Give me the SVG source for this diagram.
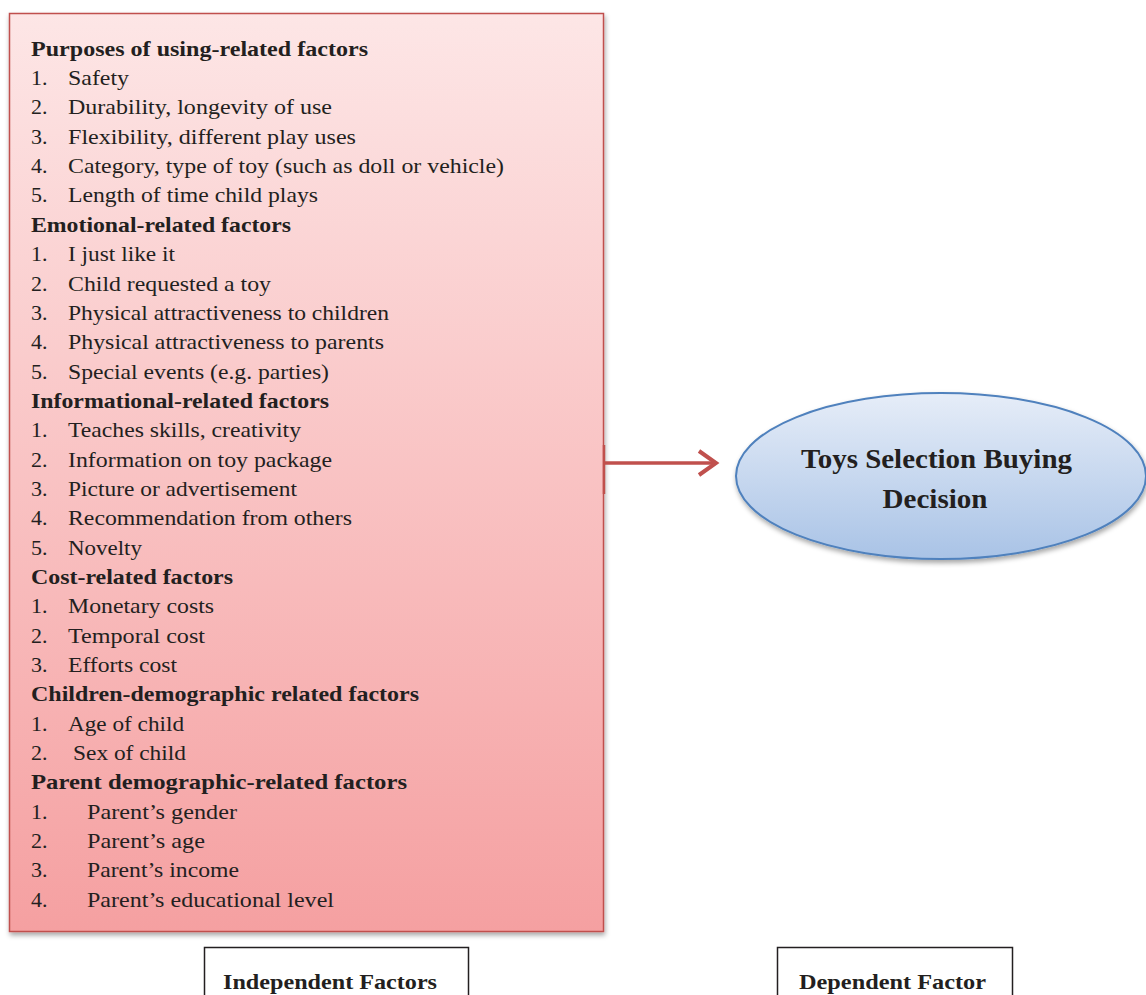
<svg xmlns="http://www.w3.org/2000/svg" width="1146" height="995" viewBox="0 0 1146 995">
<style>
text{lengthAdjust:spacingAndGlyphs}
.t{font-family:"Liberation Serif","Times New Roman",serif;font-size:22px;fill:#231f20}
.h{font-family:"Liberation Serif","Times New Roman",serif;font-size:21px;font-weight:bold;fill:#231f20}
.e{font-family:"Liberation Serif","Times New Roman",serif;font-size:28px;font-weight:bold;fill:#231f20;text-anchor:middle}
.b{font-family:"Liberation Serif","Times New Roman",serif;font-size:21px;font-weight:bold;fill:#231f20;text-anchor:middle}
</style>
<defs>
<linearGradient id="gr" x1="0" y1="0" x2="0" y2="1">
<stop offset="0" stop-color="#fde6e6"/>
<stop offset="1" stop-color="#f5a0a1"/>
</linearGradient>
<linearGradient id="gb" x1="0" y1="0" x2="0" y2="1">
<stop offset="0" stop-color="#e6edf8"/>
<stop offset="1" stop-color="#a9c3e6"/>
</linearGradient>
<filter id="sh" x="-5%" y="-5%" width="110%" height="110%">
<feDropShadow dx="1" dy="3" stdDeviation="2.5" flood-color="#000" flood-opacity="0.35"/>
</filter>
</defs>
<g id="independent">
<rect x="9.5" y="13.5" width="594" height="918" fill="url(#gr)" stroke="#c0504d" stroke-width="1.5" filter="url(#sh)"/>
<text class="h" x="31" y="56" textLength="337" lengthAdjust="spacingAndGlyphs">Purposes of using-related factors</text>
<text class="t" x="31" y="85">1.</text><text class="t" x="68" y="85" textLength="61" lengthAdjust="spacingAndGlyphs">Safety</text>
<text class="t" x="31" y="114">2.</text><text class="t" x="68" y="114" textLength="264" lengthAdjust="spacingAndGlyphs">Durability,  longevity  of use</text>
<text class="t" x="31" y="144">3.</text><text class="t" x="68" y="144" textLength="288" lengthAdjust="spacingAndGlyphs">Flexibility,  different play uses</text>
<text class="t" x="31" y="173">4.</text><text class="t" x="68" y="173" textLength="436" lengthAdjust="spacingAndGlyphs">Category, type of toy (such as doll or vehicle)</text>
<text class="t" x="31" y="202">5.</text><text class="t" x="68" y="202" textLength="250" lengthAdjust="spacingAndGlyphs">Length of time child plays</text>
<text class="h" x="31" y="232" textLength="260" lengthAdjust="spacingAndGlyphs">Emotional-related factors</text>
<text class="t" x="31" y="261">1.</text><text class="t" x="68" y="261" textLength="107" lengthAdjust="spacingAndGlyphs">I just like it</text>
<text class="t" x="31" y="291">2.</text><text class="t" x="68" y="291" textLength="203" lengthAdjust="spacingAndGlyphs">Child  requested a toy</text>
<text class="t" x="31" y="320">3.</text><text class="t" x="68" y="320" textLength="321" lengthAdjust="spacingAndGlyphs">Physical attractiveness to children</text>
<text class="t" x="31" y="349">4.</text><text class="t" x="68" y="349" textLength="316" lengthAdjust="spacingAndGlyphs">Physical attractiveness to parents</text>
<text class="t" x="31" y="379">5.</text><text class="t" x="68" y="379" textLength="261" lengthAdjust="spacingAndGlyphs">Special events (e.g. parties)</text>
<text class="h" x="31" y="408" textLength="298" lengthAdjust="spacingAndGlyphs">Informational-related  factors</text>
<text class="t" x="31" y="437">1.</text><text class="t" x="68" y="437" textLength="233" lengthAdjust="spacingAndGlyphs">Teaches skills,  creativity</text>
<text class="t" x="31" y="467">2.</text><text class="t" x="68" y="467" textLength="264" lengthAdjust="spacingAndGlyphs">Information  on toy package</text>
<text class="t" x="31" y="496">3.</text><text class="t" x="68" y="496" textLength="229" lengthAdjust="spacingAndGlyphs">Picture or advertisement</text>
<text class="t" x="31" y="525">4.</text><text class="t" x="68" y="525" textLength="284" lengthAdjust="spacingAndGlyphs">Recommendation  from others</text>
<text class="t" x="31" y="555">5.</text><text class="t" x="68" y="555" textLength="74" lengthAdjust="spacingAndGlyphs">Novelty</text>
<text class="h" x="31" y="584" textLength="202" lengthAdjust="spacingAndGlyphs">Cost-related factors</text>
<text class="t" x="31" y="613">1.</text><text class="t" x="68" y="613" textLength="146" lengthAdjust="spacingAndGlyphs">Monetary costs</text>
<text class="t" x="31" y="643">2.</text><text class="t" x="68" y="643" textLength="137" lengthAdjust="spacingAndGlyphs">Temporal cost</text>
<text class="t" x="31" y="672">3.</text><text class="t" x="68" y="672" textLength="109" lengthAdjust="spacingAndGlyphs">Efforts cost</text>
<text class="h" x="31" y="701" textLength="388" lengthAdjust="spacingAndGlyphs">Children-demographic related factors</text>
<text class="t" x="31" y="731">1.</text><text class="t" x="68" y="731" textLength="116" lengthAdjust="spacingAndGlyphs">Age of child</text>
<text class="t" x="31" y="760">2.</text><text class="t" x="73" y="760" textLength="113" lengthAdjust="spacingAndGlyphs">Sex of child</text>
<text class="h" x="31" y="789" textLength="376" lengthAdjust="spacingAndGlyphs">Parent demographic-related factors</text>
<text class="t" x="31" y="819">1.</text><text class="t" x="87" y="819" textLength="150" lengthAdjust="spacingAndGlyphs">Parent’s gender</text>
<text class="t" x="31" y="848">2.</text><text class="t" x="87" y="848" textLength="118" lengthAdjust="spacingAndGlyphs">Parent’s age</text>
<text class="t" x="31" y="877">3.</text><text class="t" x="87" y="877" textLength="152" lengthAdjust="spacingAndGlyphs">Parent’s income</text>
<text class="t" x="31" y="907">4.</text><text class="t" x="87" y="907" textLength="247" lengthAdjust="spacingAndGlyphs">Parent’s educational  level</text>
</g>
<g id="dependent">
<ellipse cx="941" cy="476" rx="205" ry="83" fill="url(#gb)" stroke="#4f81bd" stroke-width="2" filter="url(#sh)"/>
<text class="e" x="936.5" y="468" textLength="271" lengthAdjust="spacingAndGlyphs">Toys Selection Buying</text>
<text class="e" x="935" y="508" textLength="105" lengthAdjust="spacingAndGlyphs">Decision</text>
</g>
<g id="label-independent">
<rect x="204.5" y="947.5" width="264" height="60" fill="#fff" stroke="#231f20" stroke-width="1.5"/>
<text class="b" x="330" y="989" textLength="214" lengthAdjust="spacingAndGlyphs">Independent Factors</text>
</g>
<g id="label-dependent">
<rect x="777.5" y="947.5" width="235" height="60" fill="#fff" stroke="#231f20" stroke-width="1.5"/>
<text class="b" x="892.5" y="989" textLength="187" lengthAdjust="spacingAndGlyphs">Dependent Factor</text>
</g>
<g id="connectors">
<line x1="604" y1="445" x2="604" y2="494" stroke="#c0504d" stroke-width="2.5"/>
<line x1="604" y1="463" x2="716" y2="463" stroke="#c0504d" stroke-width="3.5"/>
<polyline points="699,451 716,463 699,475" fill="none" stroke="#c0504d" stroke-width="4" stroke-linejoin="miter"/>
</g>
</svg>
